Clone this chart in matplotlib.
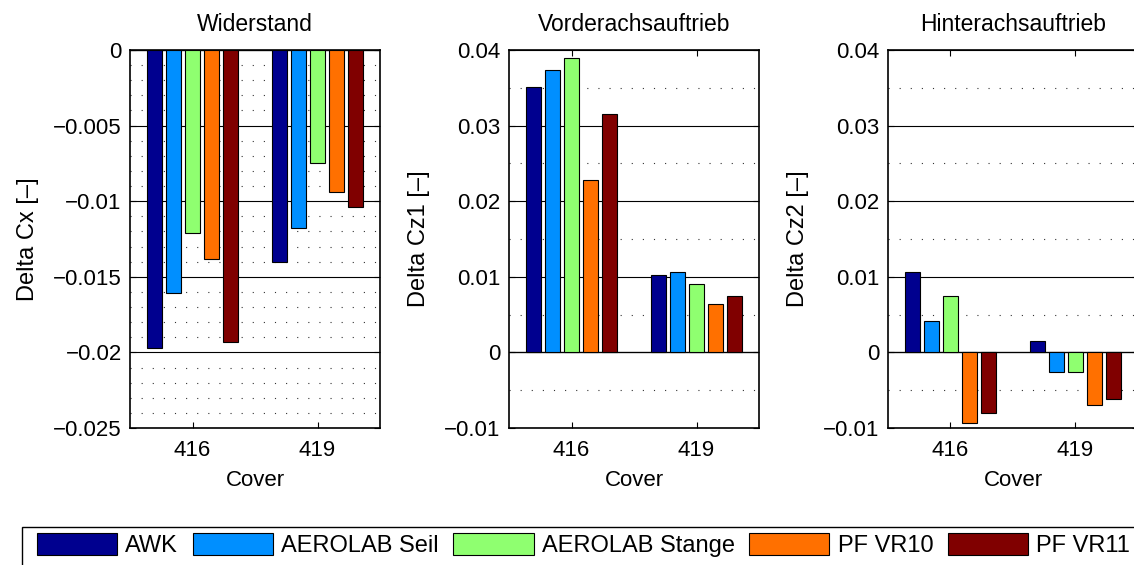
import matplotlib
matplotlib.use("Agg")
import matplotlib.pyplot as plt
from matplotlib.patches import Rectangle
from matplotlib.ticker import MultipleLocator, FuncFormatter
import numpy as np

plt.rcParams['font.family'] = ['Liberation Sans', 'DejaVu Sans']

covers = ['416', '419']
series = ['AWK', 'AEROLAB Seil', 'AEROLAB Stange', 'PF VR10', 'PF VR11']
colors = ['#00008F', '#008FFF', '#8FFF70', '#FF7000', '#800000']

# rows: series, cols: cover 416 / 419
delta_cx = [[-0.0197, -0.0140],
            [-0.0161, -0.0118],
            [-0.0121, -0.0075],
            [-0.0138, -0.0094],
            [-0.0193, -0.0104]]
delta_cz1 = [[0.0351, 0.0102],
             [0.0374, 0.0107],
             [0.0390, 0.0090],
             [0.0228, 0.0064],
             [0.0316, 0.0075]]
delta_cz2 = [[0.0107, 0.0015],
             [0.0041, -0.0026],
             [0.0074, -0.0026],
             [-0.0094, -0.0070],
             [-0.0080, -0.0061]]

panels = [
    ('Widerstand', 'Delta Cx [–]', delta_cx, (-0.025, 0), 0.005, 0.001),
    ('Vorderachsauftrieb', 'Delta Cz1 [–]', delta_cz1, (-0.01, 0.04), 0.01, 0.005),
    ('Hinterachsauftrieb', 'Delta Cz2 [–]', delta_cz2, (-0.01, 0.04), 0.01, 0.005),
]

W, H = 1134, 565
fig = plt.figure(figsize=(W / 100, H / 100), dpi=100)

lefts = [130, 509, 888]
x = np.arange(1, len(covers) + 1)
width = 0.124
step = 0.152


def fmt(v, pos):
    if abs(v) < 1e-12:
        return '0'
    s = '%g' % round(v, 6)
    return s.replace('-', '\u2212')


handles = None
for left, (title, ylabel, data, ylim, major, minor) in zip(lefts, panels):
    ax = fig.add_axes((left / W, (H - 428) / H, 250 / W, 378 / H))
    bars = []
    for i, vals in enumerate(data):
        b = ax.bar(x + (i - 2) * step, vals, width, color=colors[i],
                   edgecolor='black', linewidth=0.8, zorder=3, label=series[i])
        bars.append(b)
    if handles is None:
        handles = bars
    ax.axhline(0, color='black', lw=0.9, zorder=2)
    ax.set_xlim(0.5, 2.5)
    ax.set_ylim(*ylim)
    ax.set_xticks(x)
    ax.set_xticklabels(covers)
    ax.yaxis.set_major_locator(MultipleLocator(major))
    ax.yaxis.set_minor_locator(MultipleLocator(minor))
    ax.yaxis.set_major_formatter(FuncFormatter(fmt))
    ax.grid(axis='y', which='major', color='black', lw=0.8, ls='-', zorder=0)
    ax.grid(axis='y', which='minor', color='#333333', lw=0.8, ls=(0, (1.0, 9.0)), zorder=0)
    ax.set_axisbelow(True)
    ax.tick_params(which='major', direction='in', top=True, right=True,
                   length=4, width=0.8, labelsize=16)
    ax.tick_params(axis='y', which='major', pad=6)
    ax.tick_params(axis='x', which='major', pad=9)
    ax.tick_params(which='minor', length=0)
    for sp in ax.spines.values():
        sp.set_linewidth(1.2)
    ax.set_title(title, fontsize=16.5, pad=14)
    ax.set_xlabel('Cover', fontsize=16, labelpad=6)
    ax.set_ylabel(ylabel, fontsize=17, labelpad=10)

# legend frame, runs off the right and bottom edge like the original
fig.add_artist(Rectangle((22 / W, -0.05), 1.1, (H - 527) / H + 0.05,
                         transform=fig.transFigure, facecolor='white',
                         edgecolor='black', linewidth=1.0))
leg = fig.legend(handles, series, loc='upper left', ncol=5,
                 bbox_to_anchor=(37 / W, (H - 533) / H), fontsize=17,
                 frameon=False, borderaxespad=0, borderpad=0,
                 handlelength=3.4, handleheight=1.08, handletextpad=0.34,
                 columnspacing=0.62)

fig.savefig('out.png', dpi=100)
